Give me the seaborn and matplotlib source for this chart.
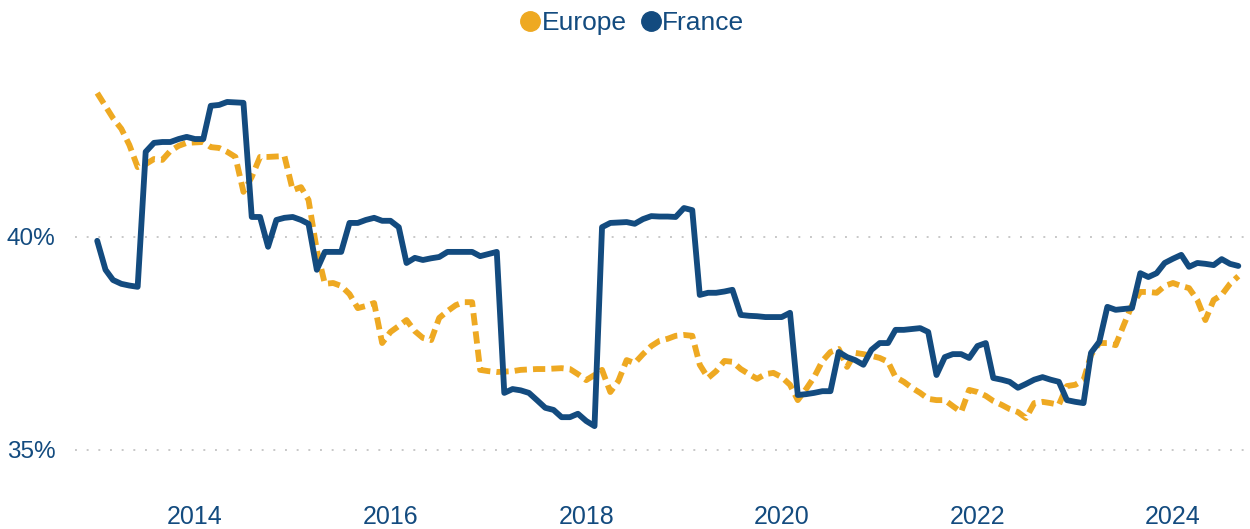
import numpy as np
import pandas as pd
import matplotlib
matplotlib.use("Agg")
import matplotlib.pyplot as plt
import seaborn as sns
from matplotlib.lines import Line2D

# monthly share, Jan 2013 .. Sep 2024
start_month = "2013-01-01"

europe = [
    43.38, 43.07, 42.79, 42.54, 42.16, 41.64, 41.71, 41.83, 41.81, 42.02,
    42.14, 42.21, 42.22, 42.23, 42.11, 42.09, 42.00, 41.88, 41.06, 41.41,
    41.88, 41.88, 41.89, 41.90, 41.10, 41.17, 40.87, 39.69, 38.90, 38.92,
    38.85, 38.66, 38.33, 38.38, 38.45, 37.51, 37.77, 37.91, 38.05, 37.79,
    37.63, 37.58, 38.10, 38.26, 38.40, 38.47, 38.47, 36.88, 36.85, 36.83,
    36.84, 36.85, 36.88, 36.89, 36.90, 36.90, 36.91, 36.92, 36.90, 36.78,
    36.64, 36.76, 36.88, 36.36, 36.62, 37.11, 37.04, 37.25, 37.44, 37.56,
    37.61, 37.68, 37.70, 37.68, 37.00, 36.69, 36.85, 37.09, 37.07, 36.90,
    36.78, 36.67, 36.78, 36.81, 36.71, 36.53, 36.17, 36.43, 36.71, 37.09,
    37.30, 37.37, 36.95, 37.28, 37.25, 37.21, 37.16, 37.07, 36.71, 36.60,
    36.46, 36.34, 36.20, 36.17, 36.17, 36.03, 35.89, 36.41, 36.36, 36.27,
    36.15, 36.06, 35.96, 35.89, 35.75, 36.10, 36.13, 36.10, 36.06, 36.50,
    36.53, 36.64, 37.23, 37.51, 37.51, 37.46, 37.93, 38.40, 38.71, 38.71,
    38.69, 38.85, 38.92, 38.85, 38.80, 38.52, 38.05, 38.52, 38.64, 38.90,
    39.08,
]

france = [
    39.91, 39.23, 38.99, 38.90, 38.86, 38.83, 42.00, 42.21, 42.23, 42.23,
    42.30, 42.35, 42.30, 42.30, 43.08, 43.10, 43.17, 43.16, 43.15, 40.47,
    40.47, 39.77, 40.40, 40.45, 40.47, 40.40, 40.31, 39.23, 39.65, 39.65,
    39.65, 40.33, 40.33, 40.40, 40.45, 40.38, 40.38, 40.23, 39.39, 39.51,
    39.46, 39.50, 39.53, 39.65, 39.65, 39.65, 39.65, 39.55, 39.60, 39.65,
    36.34, 36.43, 36.40, 36.34, 36.17, 35.99, 35.94, 35.77, 35.77, 35.85,
    35.68, 35.56, 40.23, 40.33, 40.34, 40.35, 40.31, 40.42, 40.49, 40.48,
    40.48, 40.47, 40.68, 40.63, 38.64, 38.69, 38.69, 38.72, 38.76, 38.17,
    38.15, 38.14, 38.12, 38.12, 38.12, 38.22, 36.29, 36.31, 36.34, 36.38,
    36.38, 37.30, 37.18, 37.11, 37.00, 37.35, 37.51, 37.51, 37.82, 37.82,
    37.84, 37.86, 37.77, 36.76, 37.18, 37.25, 37.25, 37.16, 37.44, 37.51,
    36.69, 36.65, 36.60, 36.46, 36.55, 36.65, 36.71, 36.65, 36.60, 36.17,
    36.13, 36.10, 37.28, 37.54, 38.36, 38.29, 38.31, 38.33, 39.15, 39.06,
    39.15, 39.39, 39.49, 39.58, 39.30, 39.39, 39.37, 39.34, 39.48, 39.37,
    39.32,
]

series_names = ["Europe", "France"]
tick_years = [2014, 2016, 2018, 2020, 2022, 2024]
y_ticks = [35, 40]

colors = {"Europe": "#EEA922", "France": "#134B7F"}
text_color = "#134B7F"

dates = pd.date_range(start_month, periods=len(france), freq="MS")
df = pd.DataFrame({
    "date": np.concatenate([dates, dates]),
    "share": europe + france,
    "series": ["Europe"] * len(europe) + ["France"] * len(france),
})

sns.set_theme(style="white")
plt.rcParams["font.family"] = ["Liberation Sans", "DejaVu Sans"]

fig = plt.figure(figsize=(12.5, 5.29), dpi=100)
ax = fig.add_axes([75 / 1250, 1 - 490 / 529, 1170 / 1250, 440 / 529])

sns.lineplot(data=df[df.series == "Europe"], x="date", y="share",
             color=colors["Europe"], lw=4.2, ax=ax, zorder=3,
             linestyle=(0, (2.1, 1.05)))
sns.lineplot(data=df[df.series == "France"], x="date", y="share",
             color=colors["France"], lw=4.2, ax=ax, zorder=4)

# axis ranges
t0 = pd.Timestamp("2014-01-01")
ax.set_xlim(t0 - pd.Timedelta(days=448), t0 + pd.Timedelta(days=3921))
ax.set_ylim(34.06, 44.39)

ax.set_xticks([pd.Timestamp(f"{y}-01-01") for y in tick_years])
ax.set_xticklabels([str(y) for y in tick_years])
ax.set_yticks(y_ticks)
ax.set_yticklabels([f"{v}%" for v in y_ticks])
ax.tick_params(axis="both", length=0, labelcolor=text_color)
ax.tick_params(axis="x", pad=11, labelsize=18)
ax.tick_params(axis="y", pad=14, labelsize=17.5)
ax.set_xlabel("")
ax.set_ylabel("")

for v in y_ticks:
    ax.axhline(v, color="#c8c8c8", lw=1.4, linestyle=(0, (1, 5)), zorder=1)

for s in ax.spines.values():
    s.set_visible(False)

handles = [Line2D([], [], marker="o", linestyle="", markersize=14,
                  markerfacecolor=colors[n], markeredgecolor=colors[n])
           for n in series_names]
leg = fig.legend(handles, series_names, loc="upper center",
                 bbox_to_anchor=(0.505, 1.024), ncol=2, frameon=False,
                 handletextpad=0.0, columnspacing=0.45, handlelength=0.9,
                 fontsize=19)
for t in leg.get_texts():
    t.set_color(text_color)

fig.savefig("out.png", dpi=100)
